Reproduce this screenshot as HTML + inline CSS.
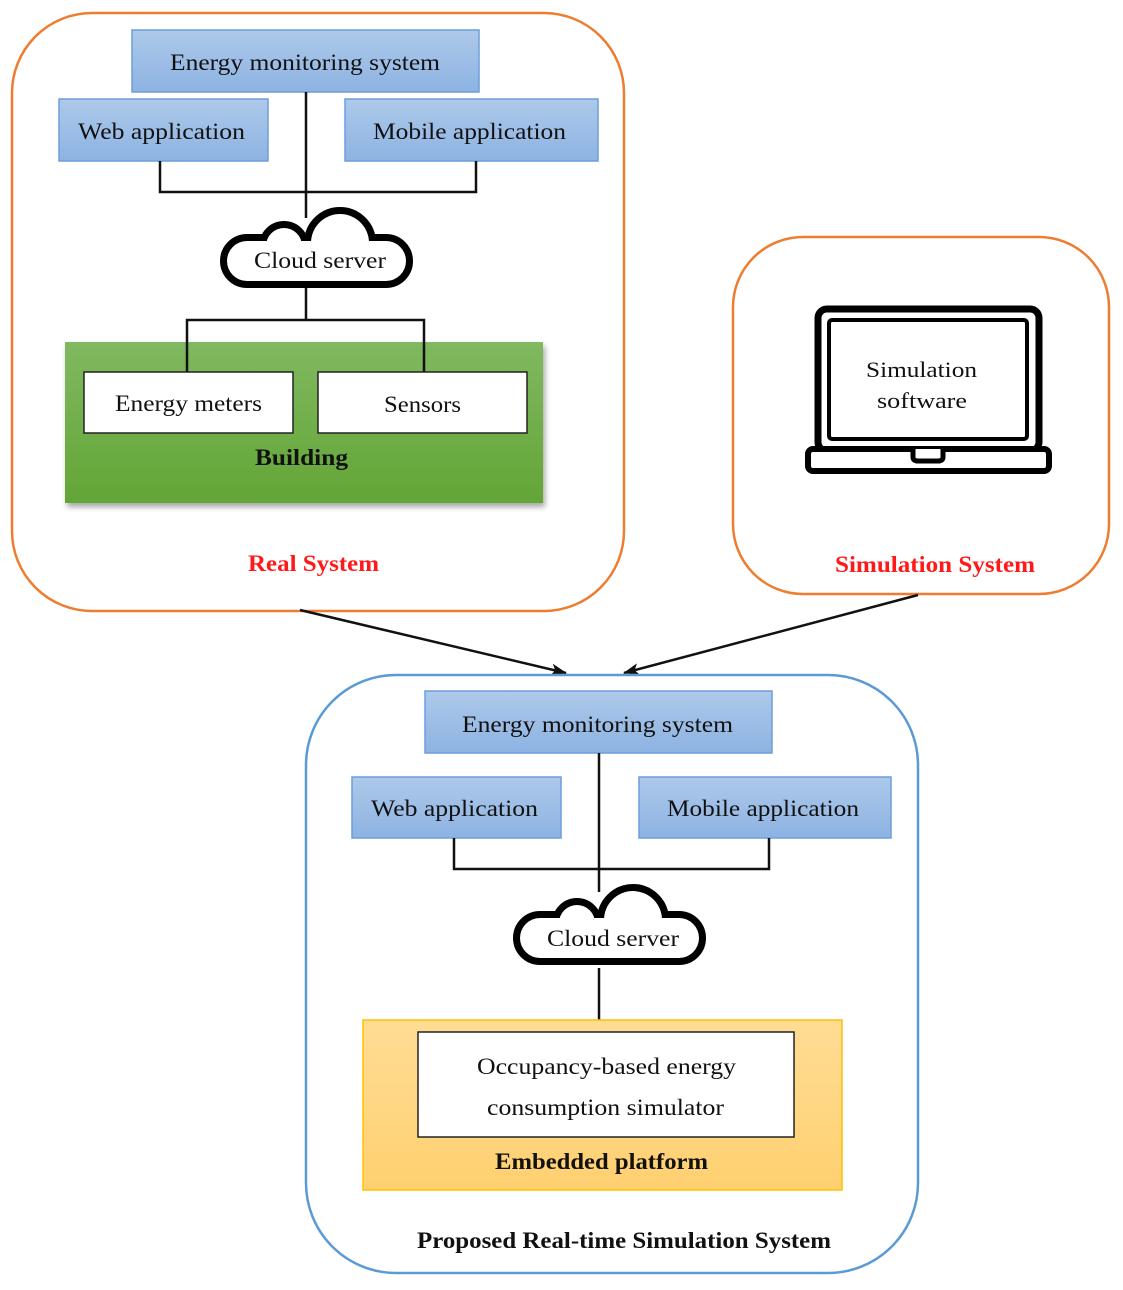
<!DOCTYPE html>
<html><head><meta charset="utf-8"><style>
html,body{margin:0;padding:0;background:#fff;}
svg{display:block;}
text{font-family:"Liberation Serif",serif;fill:#111;}
</style></head><body>
<svg width="1123" height="1290" viewBox="0 0 1123 1290" xmlns="http://www.w3.org/2000/svg">
<defs>
<linearGradient id="bl" x1="0" y1="0" x2="0" y2="1"><stop offset="0" stop-color="#adc9ea"/><stop offset="1" stop-color="#8db3e2"/></linearGradient>
<linearGradient id="gr" x1="0" y1="0" x2="0" y2="1"><stop offset="0" stop-color="#80b960"/><stop offset="1" stop-color="#63a536"/></linearGradient>
<linearGradient id="yl" x1="0" y1="0" x2="0" y2="1"><stop offset="0" stop-color="#ffdc95"/><stop offset="1" stop-color="#ffd070"/></linearGradient>
<filter id="sh" x="-5%" y="-5%" width="115%" height="120%"><feDropShadow dx="2" dy="4" stdDeviation="3" flood-color="#000" flood-opacity="0.35"/></filter>
<marker id="ar" markerWidth="16" markerHeight="12" refX="15" refY="6" orient="auto" markerUnits="userSpaceOnUse"><path d="M0,0 L16,6 L0,12 L4,6 Z" fill="#111"/></marker>
</defs>

<!-- Real system -->
<rect x="12" y="13" width="612" height="598" rx="80" fill="none" stroke="#ed7d31" stroke-width="2.5"/>
<g stroke="#6d9eda" stroke-width="1.5" fill="url(#bl)">
<rect x="132" y="30" width="347" height="62"/>
<rect x="59" y="99" width="209" height="62"/>
<rect x="345" y="99" width="253" height="62"/>
</g>
<text x="170" y="70" font-size="23" textLength="270" lengthAdjust="spacingAndGlyphs">Energy monitoring system</text>
<text x="78" y="139" font-size="23" textLength="167" lengthAdjust="spacingAndGlyphs">Web application</text>
<text x="373" y="139" font-size="23" textLength="193" lengthAdjust="spacingAndGlyphs">Mobile application</text>
<g stroke="#111" stroke-width="2.5" fill="none">
<path d="M306 92 V218"/>
<path d="M160 161 V192 H476 V161"/>
<path d="M306 282 V320 M187 372 V320 H424 V372"/>
</g>
<!-- cloud 1 -->
<g stroke="#000" stroke-width="14" fill="#000">
<rect x="227" y="241" width="179" height="40" rx="20"/>
<circle cx="340" cy="243" r="29"/>
<circle cx="284" cy="246" r="18"/>
</g>
<g fill="#fff">
<rect x="227" y="241" width="179" height="40" rx="20"/>
<circle cx="340" cy="243" r="29"/>
<circle cx="284" cy="246" r="18"/>
</g>
<text x="254" y="268" font-size="23" textLength="132" lengthAdjust="spacingAndGlyphs">Cloud server</text>

<rect x="65" y="342" width="478" height="161" fill="url(#gr)" filter="url(#sh)"/>
<path d="M187 342 V372 M424 342 V372" stroke="#111" stroke-width="2.5"/>
<rect x="84" y="372" width="209" height="61" fill="#fff" stroke="#222" stroke-width="1.5"/>
<rect x="318" y="372" width="209" height="61" fill="#fff" stroke="#222" stroke-width="1.5"/>
<text x="115" y="411" font-size="23" textLength="147" lengthAdjust="spacingAndGlyphs">Energy meters</text>
<text x="384" y="412" font-size="23" textLength="77" lengthAdjust="spacingAndGlyphs">Sensors</text>
<text x="255" y="465" font-size="23" font-weight="bold" textLength="93" lengthAdjust="spacingAndGlyphs">Building</text>
<text x="248" y="571" font-size="23" font-weight="bold" textLength="131" lengthAdjust="spacingAndGlyphs" style="fill:#ff1a1a">Real System</text>

<!-- Simulation system -->
<rect x="733" y="237" width="376" height="357" rx="70" fill="none" stroke="#ed7d31" stroke-width="2.5"/>
<rect x="818" y="309" width="221" height="142" rx="9" fill="#fff" stroke="#000" stroke-width="7"/>
<rect x="829" y="320" width="198" height="119" rx="3" fill="#fff" stroke="#000" stroke-width="4"/>
<rect x="808" y="449" width="241" height="22" rx="5" fill="#fff" stroke="#000" stroke-width="6"/>
<path d="M913 449 V457 Q913 461 918 461 H938 Q943 461 943 457 V449" fill="#fff" stroke="#000" stroke-width="5"/>
<text x="866" y="377" font-size="22" textLength="111" lengthAdjust="spacingAndGlyphs">Simulation</text>
<text x="877" y="408" font-size="22" textLength="90" lengthAdjust="spacingAndGlyphs">software</text>
<text x="835" y="572" font-size="23" font-weight="bold" textLength="200" lengthAdjust="spacingAndGlyphs" style="fill:#ff1a1a">Simulation System</text>

<!-- arrows -->
<path d="M300 610 L566 673" stroke="#111" stroke-width="2.5" fill="none" marker-end="url(#ar)"/>
<path d="M918 595 L624 673" stroke="#111" stroke-width="2.5" fill="none" marker-end="url(#ar)"/>

<!-- Proposed -->
<rect x="306" y="675" width="612" height="598" rx="90" fill="none" stroke="#5b9bd5" stroke-width="2.5"/>
<g stroke="#6d9eda" stroke-width="1.5" fill="url(#bl)">
<rect x="425" y="691" width="347" height="62"/>
<rect x="352" y="777" width="209" height="61"/>
<rect x="639" y="777" width="252" height="61"/>
</g>
<text x="462" y="732" font-size="23" textLength="271" lengthAdjust="spacingAndGlyphs">Energy monitoring system</text>
<text x="371" y="816" font-size="23" textLength="167" lengthAdjust="spacingAndGlyphs">Web application</text>
<text x="667" y="816" font-size="23" textLength="192" lengthAdjust="spacingAndGlyphs">Mobile application</text>
<g stroke="#111" stroke-width="2.5" fill="none">
<path d="M599 753 V892"/>
<path d="M454 838 V869 H769 V838"/>
<path d="M599 968 V1020"/>
</g>
<g stroke="#000" stroke-width="14" fill="#000">
<rect x="520" y="918" width="179" height="40" rx="20"/>
<circle cx="633" cy="920" r="29"/>
<circle cx="577" cy="923" r="18"/>
</g>
<g fill="#fff">
<rect x="520" y="918" width="179" height="40" rx="20"/>
<circle cx="633" cy="920" r="29"/>
<circle cx="577" cy="923" r="18"/>
</g>
<text x="547" y="946" font-size="23" textLength="132" lengthAdjust="spacingAndGlyphs">Cloud server</text>

<rect x="363" y="1020" width="479" height="170" fill="url(#yl)" stroke="#ffc000" stroke-width="1.5"/>
<rect x="418" y="1032" width="376" height="105" fill="#fff" stroke="#222" stroke-width="1.5"/>
<text x="477" y="1074" font-size="23" textLength="259" lengthAdjust="spacingAndGlyphs">Occupancy-based energy</text>
<text x="487" y="1115" font-size="23" textLength="237" lengthAdjust="spacingAndGlyphs">consumption simulator</text>
<text x="495" y="1169" font-size="23" font-weight="bold" textLength="213" lengthAdjust="spacingAndGlyphs">Embedded platform</text>
<text x="417" y="1248" font-size="23" font-weight="bold" textLength="414" lengthAdjust="spacingAndGlyphs">Proposed Real-time Simulation System</text>
</svg>
</body></html>
